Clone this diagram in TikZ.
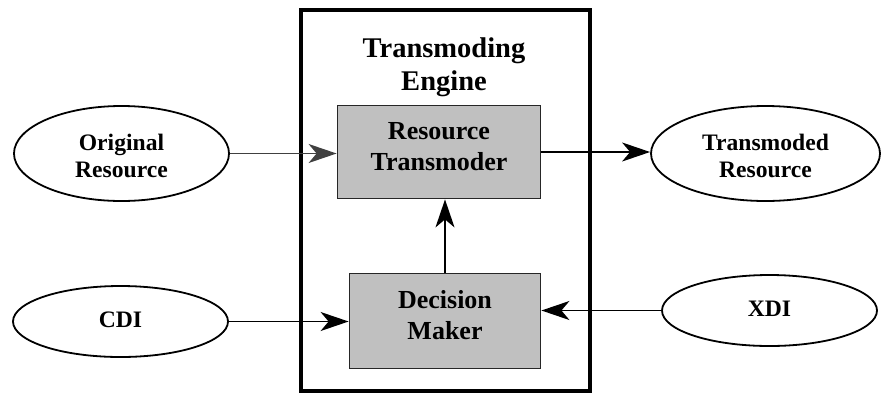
\documentclass[tikz,border=0pt]{standalone}
\usepackage{fontspec}
\setmainfont{Liberation Serif}
\usetikzlibrary{shapes.geometric,arrows.meta}
\definecolor{boxgray}{HTML}{C0C0C0}
\tikzset{
  oval/.style={ellipse, draw=black, line width=1.8pt, fill=white, inner sep=0pt},
  procbox/.style={rectangle, draw=black!85, line width=1.8pt, fill=boxgray, inner sep=0pt},
  ovaltext/.style={font=\fontsize{23.6}{27}\selectfont\bfseries, align=center, inner sep=0pt},
  boxtext/.style={font=\fontsize{26}{31}\selectfont\bfseries, align=center, inner sep=0pt},
  titletext/.style={font=\fontsize{28.5}{33.4}\selectfont\bfseries, align=center, inner sep=0pt},
  conn/.style={line width=1.6pt, -{Stealth[length=28pt, width=19pt, inset=8pt]}},
}
\begin{document}
\begin{tikzpicture}[x=1pt, y=-1pt]
\useasboundingbox (0,0) rectangle (882,394);
% outer engine frame
\node[rectangle, draw=black, line width=4pt, minimum width=288.2pt, minimum height=381.8pt, inner sep=0pt] (engine) at (445.4,200.4) {};
\node[titletext] (title) at (444,67) {Transmoding\\Engine};
% inner process boxes
\node[procbox, minimum width=203pt, minimum height=93pt] (rt) at (439,152) {};
\node[boxtext] (rtlbl) at (439,147) {Resource\\Transmoder};
\node[procbox, minimum width=191pt, minimum height=95pt] (dm) at (445,321) {};
\node[boxtext] (dmlbl) at (445,315.5) {Decision\\Maker};
% ellipses
\node[oval, minimum width=215pt, minimum height=95pt] (orig) at (121.5,153.5) {};
\node[ovaltext] (origlbl) at (121.5,155.5) {Original\\Resource};
\node[oval, minimum width=229pt, minimum height=95pt] (trans) at (765.5,153.5) {};
\node[ovaltext] (translbl) at (765.5,155.5) {Transmoded\\Resource};
\node[oval, minimum width=215pt, minimum height=71pt] (cdi) at (120.5,321.5) {};
\node[ovaltext] (cdilbl) at (120.5,320) {CDI};
\node[oval, minimum width=215pt, minimum height=71pt] (xdi) at (769.5,310.5) {};
\node[ovaltext] (xdilbl) at (769.5,309) {XDI};
% connectors
\draw[conn, draw=black!75, fill=black!75] (orig.east) -- (orig.east -| rt.west);
\draw[conn] (rt.east) -- (rt.east -| trans.west);
\draw[conn] (cdi.east) -- (cdi.east -| dm.west);
\draw[conn] (xdi.west) -- (xdi.west -| dm.east);
\draw[conn] (dm.north) -- (dm.north |- rt.south);
\end{tikzpicture}
\end{document}
